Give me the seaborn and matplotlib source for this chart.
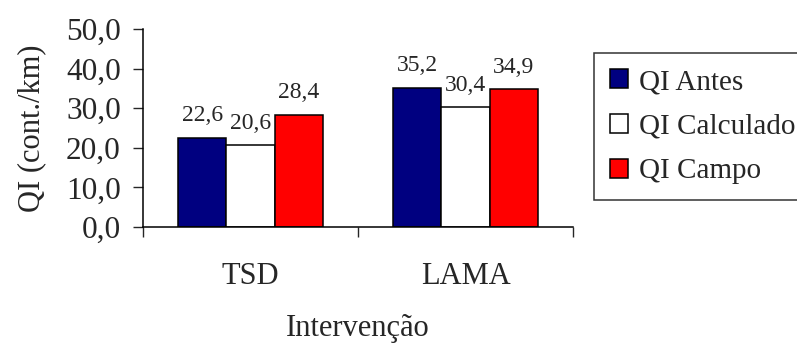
import pandas as pd
import seaborn as sns
import matplotlib.pyplot as plt
from matplotlib.patches import Patch

# dados
intervencoes = ["TSD", "LAMA"]
series = ["QI Antes", "QI Calculado", "QI Campo"]
qi_antes = [22.6, 35.2]
qi_calculado = [20.6, 30.4]
qi_campo = [28.4, 34.9]
cores = ["#000080", "#FFFFFF", "#FF0000"]

df = pd.DataFrame({
    "Intervenção": intervencoes * 3,
    "serie": [s for s in series for _ in intervencoes],
    "QI": qi_antes + qi_calculado + qi_campo,
})

sns.set_style("white")
plt.rcParams["font.family"] = ["Liberation Serif", "DejaVu Serif"]

fig = plt.figure(figsize=(7.97, 3.47), dpi=100)
ax = fig.add_axes([143 / 797, 1 - 227 / 347, (573 - 143) / 797, (227 - 29) / 347])

sns.barplot(data=df, x="Intervenção", y="QI", hue="serie", hue_order=series,
            palette=cores, width=0.67, edgecolor="black", linewidth=1.1,
            saturation=1, legend=False, ax=ax)

for cont in ax.containers:
    ax.bar_label(cont, labels=[f"{v.get_height():.1f}".replace(".", ",") for v in cont],
                 padding=8, fontsize=17)

ax.set_ylim(0, 50)
ax.set_xlim(-0.5, 1.5)
ax.set_yticks(range(0, 51, 10))
ax.set_yticklabels([f"{v},0" for v in range(0, 51, 10)])
ax.set_xticks([-0.5, 0.5, 1.5], minor=True)
ax.tick_params(axis="y", direction="out", length=7, width=1, labelsize=22.5, pad=9, left=True)
ax.tick_params(axis="x", which="major", length=0, labelsize=22, pad=25)
ax.tick_params(axis="x", which="minor", direction="out", length=7, width=1, bottom=True)

for s in ["top", "right"]:
    ax.spines[s].set_visible(False)
for s in ["left", "bottom"]:
    ax.spines[s].set_color("black")
    ax.spines[s].set_linewidth(1.1)

ax.set_ylabel("QI (cont./km)", fontsize=22, labelpad=14)
ax.set_xlabel("Intervenção", fontsize=22, labelpad=17)

handles = [Patch(facecolor=c, edgecolor="black", linewidth=1.1) for c in cores]
leg = ax.legend(handles, series, loc="upper left", bbox_to_anchor=(594 / 797, 1 - 53 / 347),
                bbox_transform=fig.transFigure, fontsize=21, frameon=True, fancybox=False,
                handlelength=0.62, handleheight=0.62, handletextpad=0.38,
                labelspacing=0.64, borderpad=0.55, borderaxespad=0)
leg.get_frame().set_edgecolor("black")
leg.get_frame().set_linewidth(1.1)

fig.savefig("out.png", dpi=100)
